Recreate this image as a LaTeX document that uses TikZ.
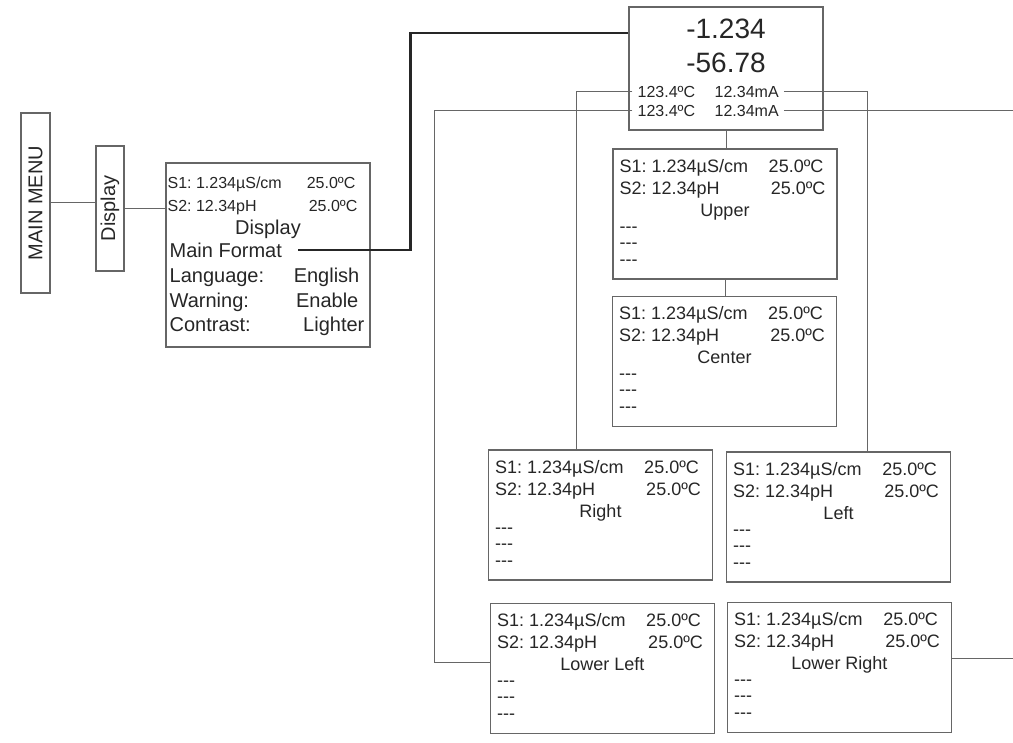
\documentclass[tikz,border=0pt]{standalone}
\usepackage{fontspec}
\setmainfont{Liberation Sans}
\usepackage{graphicx}
\usetikzlibrary{positioning,calc}
\frenchspacing

\begin{document}
\begin{tikzpicture}[
    x=1pt, y=-1pt,
    every node/.style={text=black!85},
    box/.style={rectangle, draw=black!60, line width=1.1pt, inner sep=0pt},
    screen/.style={box, minimum width=224pt, minimum height=130pt},
    wire/.style={draw=black!60, line width=1pt},
    bus/.style={draw=black!85, line width=2.4pt},
    txt/.style={font=\fontsize{18}{20}\selectfont, inner sep=0pt},
    sml/.style={font=\fontsize{16}{18}\selectfont, inner sep=0pt},
    lcd/.style={font=\fontsize{16}{18}\selectfont, inner xsep=5pt, inner ysep=0pt},
    mid/.style={font=\fontsize{20}{22}\selectfont, inner sep=0pt},
    lcdbig/.style={font=\fontsize{28}{30}\selectfont, inner sep=0pt}
]
\useasboundingbox (0,0) rectangle (1013,743);

% menu column
\node[box, minimum width=29pt, minimum height=180pt, mid] (menu) at (35.5,203) {\rotatebox{90}{MAIN MENU}};
\node[box, minimum width=28pt, minimum height=125pt, mid] (disp) at (110,208.5) {\rotatebox{90}{Display}};

% display screen
\node[box, minimum width=204pt, minimum height=184pt] (dispbox) at (268,255) {};
\node[sml, anchor=base west] (ds1) at ($(dispbox.north west)+(2,26)$) {S1: 1.234µS/cm};
\node[sml, anchor=base east] (ds1t) at ($(dispbox.north east)+(-15,26)$) {25.0ºC};
\node[sml, anchor=base west] (ds2) at ($(dispbox.north west)+(2,49)$) {S2: 12.34pH};
\node[sml, anchor=base east] (ds2t) at ($(dispbox.north east)+(-13,49)$) {25.0ºC};
\node[mid, anchor=base] (dtitle) at ($(dispbox.north)+(0,72)$) {Display};
\node[mid, anchor=base west] (mf) at ($(dispbox.north west)+(4,95)$) {Main Format};
\node[mid, anchor=base west] (lang) at ($(dispbox.north west)+(4,120)$) {Language:};
\node[mid, anchor=base east] (langv) at ($(dispbox.north east)+(-11,120)$) {English};
\node[mid, anchor=base west] (warn) at ($(dispbox.north west)+(4,145)$) {Warning:};
\node[mid, anchor=base east] (warnv) at ($(dispbox.north east)+(-12,145)$) {Enable};
\node[mid, anchor=base west] (cont) at ($(dispbox.north west)+(4,169)$) {Contrast:};
\node[mid, anchor=base east] (contv) at ($(dispbox.north east)+(-6,169)$) {Lighter};

% main format screen
\node[box, minimum width=194pt, minimum height=123pt] (main) at (726,68.5) {};
\node[lcdbig, anchor=base] (v1) at ($(main.north)+(0,32)$) {-1.234};
\node[lcdbig, anchor=base] (v2) at ($(main.north)+(0,66)$) {-56.78};
\node[lcd, anchor=base west] (ta1) at ($(main.north west)+(4,91)$) {123.4ºC};
\node[lcd, anchor=base west] (tb1) at ($(main.north west)+(81,91)$) {12.34mA};
\node[lcd, anchor=base west] (ta2) at ($(main.north west)+(4,110)$) {123.4ºC};
\node[lcd, anchor=base west] (tb2) at ($(main.north west)+(81,110)$) {12.34mA};

% position screens
\foreach \n/\x/\y/\t in {up/725/214/Upper, ce/724.5/361.5/Center, rt/600.5/515/Right,
    lf/838.5/517/Left, ll/602.5/668.5/Lower Left, lr/839.5/667.5/Lower Right} {
  \node[screen] (\n) at (\x,\y) {};
  \node[txt, anchor=base west] (\n-a) at ($(\n.north west)+(7,24)$) {S1: 1.234µS/cm};
  \node[txt, anchor=base east] (\n-b) at ($(\n.north east)+(-14,24)$) {25.0ºC};
  \node[txt, anchor=base west] (\n-c) at ($(\n.north west)+(7,46)$) {S2: 12.34pH};
  \node[txt, anchor=base east] (\n-d) at ($(\n.north east)+(-12,46)$) {25.0ºC};
  \node[txt, anchor=base] (\n-e) at ($(\n.north)+(0,68)$) {\t};
  \foreach \k in {84,100,117}
    \node[txt, anchor=base west] (\n-\k) at ($(\n.north west)+(7,\k)$) {-\kern0pt-\kern0pt-};
}

\coordinate (edge) at (1013,0);
\coordinate (lrout) at (1013,658);

% connectors
\draw[wire] (menu.east) -- (menu.east -| disp.west);
\draw[wire] (disp.east) -- (disp.east -| dispbox.west);
\draw[bus] ([xshift=16pt]mf.east) -| ([xshift=-218pt, yshift=35.5pt]main.west) -- ([yshift=35.5pt]main.west);
\draw[wire] (main.south) -- (main.south |- up.north);
\draw[wire] (up.south) -- (up.south |- ce.north);
\draw[wire] (ta1.west) -| ([xshift=-24.5pt]rt.north);
\draw[wire] (tb1.east) -| ([xshift=28.5pt]lf.north);
\draw[wire] (ta2.west) -| ([xshift=-55pt, yshift=6.5pt]ll.west) -- ([yshift=6.5pt]ll.west);
\draw[wire] (tb2.east) -- (tb2.east -| edge);
\draw[wire] (lr.east |- lrout) -- (lrout);
\end{tikzpicture}
\end{document}
